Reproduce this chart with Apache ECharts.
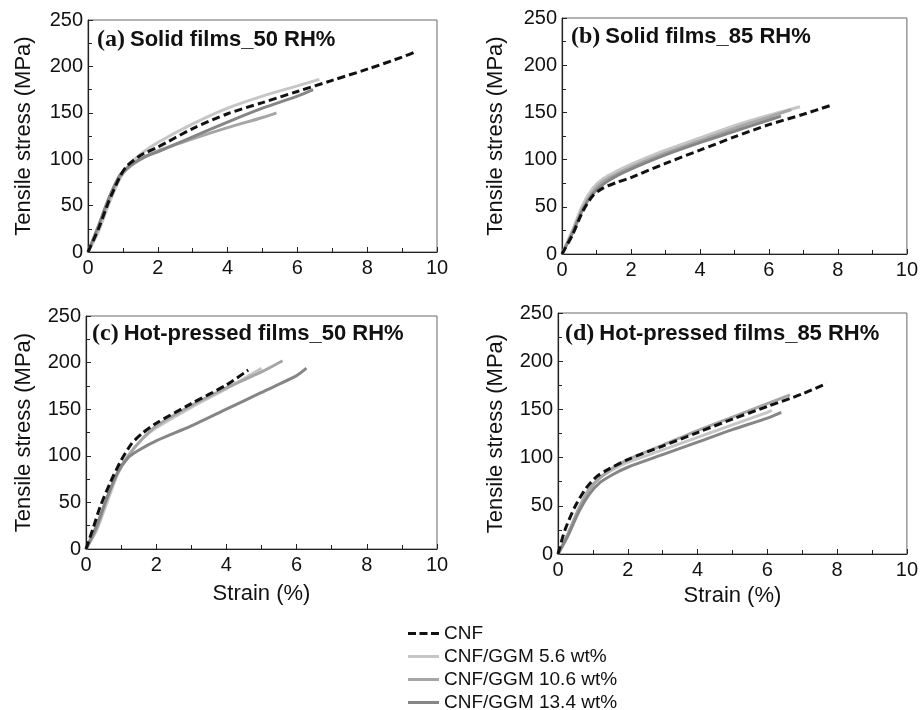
<!DOCTYPE html>
<html><head><meta charset="utf-8">
<script src="https://cdn.jsdelivr.net/npm/echarts@6/dist/echarts.min.js"></script>
<style>html,body{margin:0;padding:0;background:#fff}#c{width:921px;height:710px}</style>
</head><body><div id="c"></div>
<script>
// ---- data: [strain %, tensile stress MPa] ----
const seriesNames = ['CNF', 'CNF/GGM 5.6 wt%', 'CNF/GGM 10.6 wt%', 'CNF/GGM 13.4 wt%'];
const panelTitles = [['(a)', 'Solid films_50 RH%'], ['(b)', 'Solid films_85 RH%'], ['(c)', 'Hot-pressed films_50 RH%'], ['(d)', 'Hot-pressed films_85 RH%']];
const xTicks = [0, 2, 4, 6, 8, 10];
const yTicks = [0, 50, 100, 150, 200, 250];

const a_CNF  = [[0,0],[0.3,25],[0.6,55],[0.9,80],[1.1,92],[1.5,104],[2,113],[3,133],[4,149],[5,161],[6,173],[7,185],[8,197],[9,210],[9.33,215]];
const a_G56  = [[0,0],[0.3,22],[0.6,52],[0.9,78],[1.2,95],[1.6,108],[2,118],[3,138],[4,155],[5,168],[6,179],[6.63,186]];
const a_G106 = [[0,0],[0.3,28],[0.6,58],[0.9,80],[1.2,92],[1.6,102],[2,109],[3,122],[4,134],[5,145],[5.4,150]];
const a_G134 = [[0,0],[0.3,28],[0.6,58],[0.9,82],[1.2,93],[1.6,102],[2,108],[3,124],[4,140],[5,155],[6,168],[6.45,175]];

const b_CNF  = [[0,0],[0.3,20],[0.6,45],[0.9,62],[1.2,70],[1.6,76],[2,81],[3,96],[4,110],[5,124],[6,137],[7,148],[7.76,157]];
const b_G56  = [[0,0],[0.3,25],[0.6,52],[0.9,70],[1.2,80],[1.6,88],[2,95],[3,110],[4,123],[5,136],[6,147],[6.9,156]];
const b_G106 = [[0,0],[0.3,22],[0.6,48],[0.9,66],[1.2,77],[1.6,85],[2,92],[3,107],[4,120],[5,133],[6,145],[6.65,153]];
const b_G134 = [[0,0],[0.3,22],[0.6,47],[0.9,64],[1.2,74],[1.6,83],[2,90],[3,105],[4,118],[5,130],[6,142],[6.35,146]];

const c_CNF  = [[0,0],[0.2,22],[0.4,45],[0.7,72],[1,95],[1.3,113],[1.6,124],[2,135],[3,156],[4,176],[4.62,192]];
const c_G56  = [[0,0],[0.3,20],[0.6,50],[0.9,80],[1.2,100],[1.6,118],[2,130],[3,152],[4,172],[5,194]];
const c_G106 = [[0,0],[0.3,22],[0.6,55],[0.9,82],[1.2,100],[1.6,118],[2,132],[3,154],[4,173],[5,190],[5.6,202]];
const c_G134 = [[0,0],[0.3,25],[0.6,55],[0.9,82],[1.2,98],[1.5,106],[2,116],[3,132],[4,150],[5,168],[6,186],[6.28,194]];

const d_CNF  = [[0,0],[0.2,25],[0.5,50],[0.8,68],[1.1,80],[1.4,87],[2,98],[3,112],[4,126],[5,140],[6,153],[7,166],[7.7,177]];
const d_G56  = [[0,0],[0.3,22],[0.6,48],[0.9,68],[1.2,79],[1.6,88],[2,95],[3,108],[4,121],[5,134],[6,147],[6.13,149]];
const d_G106 = [[0,0],[0.3,22],[0.6,47],[0.9,67],[1.2,79],[1.6,90],[2,98],[3,113],[4,128],[5,142],[6,156],[6.65,165]];
const d_G134 = [[0,0],[0.3,20],[0.6,44],[0.9,62],[1.2,74],[1.6,83],[2,90],[3,103],[4,116],[5,129],[6,141],[6.4,147]];

const panelData = [[a_CNF, a_G56, a_G106, a_G134], [b_CNF, b_G56, b_G106, b_G134], [c_CNF, c_G56, c_G106, c_G134], [d_CNF, d_G56, d_G106, d_G134]];

// ---- layout / style ----
const SANS = "'Liberation Sans', Arial, sans-serif";
const SERIF = "'Liberation Serif', 'Times New Roman', serif";
const grids = [
  {left: 88, top: 20, width: 349, height: 232},
  {left: 562, top: 18, width: 350, height: 236},
  {left: 86, top: 316, width: 351, height: 233},
  {left: 558, top: 313, width: 353, height: 241}
];
const yNameGaps = [53, 55, 51, 51];
const xNameGaps = [0, 0, 34, 31];
const lineColors = ['#111111', '#c6c6c6', '#a6a6a6', '#868686'];
const titlePos = [[97, 28], [571, 25], [92, 322], [565, 322]];
const dashIcon = 'path://M0,0h8v3h-8z M11.5,0h8v3h-8z M23,0h8v3h-8z';
const solidIcon = 'path://M0,0h31v3h-31z';

const option = {
  animation: false,
  backgroundColor: '#fff',
  grid: grids.map(g => Object.assign({show: true, borderColor: '#666', borderWidth: 1}, g)),
  title: panelTitles.map((t, i) => ({
    text: '{p|' + t[0] + '} {s|' + t[1] + '}',
    left: titlePos[i][0], top: titlePos[i][1], padding: 0,
    textStyle: {rich: {
      p: {fontFamily: SERIF, fontWeight: 'bold', fontSize: 24, color: '#111'},
      s: {fontFamily: SANS, fontWeight: 'bold', fontSize: 22, color: '#111'}
    }}
  })),
  xAxis: grids.map((g, i) => ({
    gridIndex: i, type: 'value', min: xTicks[0], max: xTicks[xTicks.length - 1], interval: 2,
    name: i >= 2 ? 'Strain (%)' : '', nameLocation: 'middle', nameGap: xNameGaps[i],
    nameTextStyle: {fontFamily: SANS, fontSize: 22, color: '#111'},
    axisLine: {lineStyle: {color: '#222', width: 1.2}},
    axisTick: {inside: true, length: 5, lineStyle: {color: '#222'}},
    minorTick: {show: true, splitNumber: 2, length: 4, lineStyle: {color: '#222'}},
    splitLine: {show: false},
    axisLabel: {fontFamily: SANS, fontSize: 20, color: '#111', margin: 6}
  })),
  yAxis: grids.map((g, i) => ({
    gridIndex: i, type: 'value', min: yTicks[0], max: yTicks[yTicks.length - 1], interval: 50,
    name: 'Tensile stress (MPa)', nameLocation: 'middle', nameGap: yNameGaps[i],
    nameTextStyle: {fontFamily: SANS, fontSize: 22, color: '#111'},
    axisLine: {show: true, lineStyle: {color: '#222', width: 1.2}},
    axisTick: {show: true, inside: true, length: 5, lineStyle: {color: '#222'}},
    minorTick: {show: true, splitNumber: 2, length: 4, lineStyle: {color: '#222'}},
    splitLine: {show: false},
    axisLabel: {fontFamily: SANS, fontSize: 20, color: '#111', margin: 5}
  })),
  legend: {
    orient: 'vertical', left: 408, top: 624, height: 100, padding: 0,
    itemWidth: 31, itemHeight: 3, itemGap: 4,
    data: seriesNames.map((n, k) => ({name: n, icon: k === 0 ? dashIcon : solidIcon})),
    textStyle: {fontFamily: SANS, fontSize: 19, color: '#111', padding: [0, 0, 0, 0]}
  },
  series: []
};

panelData.forEach((arrs, p) => {
  [1, 2, 3, 0].forEach(k => {
    option.series.push({
      type: 'line', name: seriesNames[k], xAxisIndex: p, yAxisIndex: p,
      data: arrs[k], symbol: 'none', smooth: 0.25,
      lineStyle: {color: lineColors[k], width: 3, type: k === 0 ? [8, 4] : 'solid'},
      itemStyle: {color: lineColors[k]}
    });
  });
});

const chart = echarts.init(document.getElementById('c'), null, {renderer: 'canvas'});
chart.setOption(option);
</script></body></html>
